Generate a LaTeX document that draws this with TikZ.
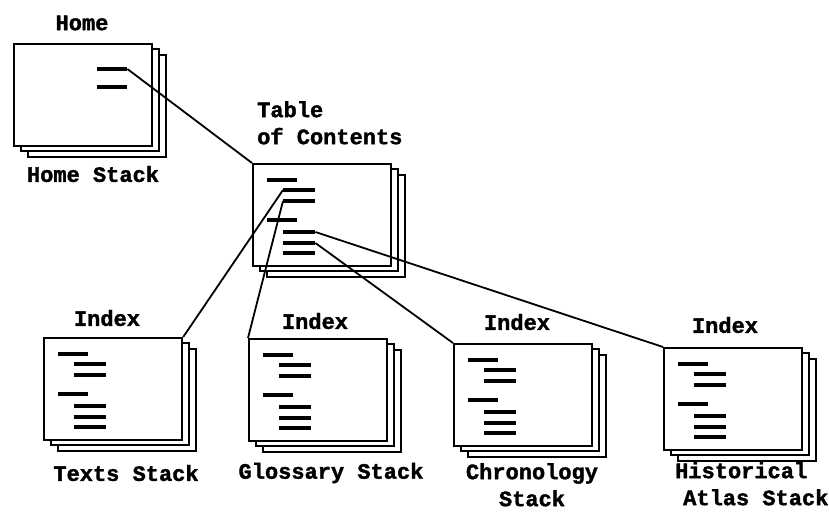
\documentclass[tikz,border=0pt]{standalone}
\usepackage{fontspec}
\newfontfamily\lblfont[BoldFont={Liberation Mono Bold},BoldFeatures={FakeBold=1.6}]{Liberation Mono}
\begin{document}
\begin{tikzpicture}[x=1pt,y=-1pt,
  card/.style={draw=black,line width=2.2pt,fill=white,minimum width=138pt,minimum height=102pt,inner sep=0pt,anchor=north west},
  bar/.style={fill=black,minimum width=#1,minimum height=4.5pt,inner sep=0pt,anchor=west},
  bar/.default=32pt,
  lbl/.style={font=\lblfont\bfseries\fontsize{22}{27}\selectfont,inner sep=0pt},
  link/.style={line width=1.8pt}]
\useasboundingbox (0,0) rectangle (829,511);

% a stack of three cards, front card named #1, top-left corner at (#2,#3)
\newcommand\cardstack[3]{%
  \node[card] at (#2+14,#3+11) {};
  \node[card] at (#2+7,#3+5) {};
  \node[card] (#1) at (#2,#3) {};}

% index layout: two headings with indented entries below each
\newcommand\indexbars[1]{%
  \node[bar=30pt] (#1b1) at ([shift={(15,17)}]#1.north west) {};
  \node[bar] (#1b2) at ([shift={(31,27)}]#1.north west) {};
  \node[bar] (#1b3) at ([shift={(31,38)}]#1.north west) {};
  \node[bar=30pt] (#1b4) at ([shift={(15,57)}]#1.north west) {};
  \node[bar] (#1b5) at ([shift={(31,69)}]#1.north west) {};
  \node[bar] (#1b6) at ([shift={(31,80)}]#1.north west) {};
  \node[bar] (#1b7) at ([shift={(31,90)}]#1.north west) {};}

% Home stack
\cardstack{home}{13}{43}
\node[bar=30pt] (homeb1) at ([shift={(84,26)}]home.north west) {};
\node[bar=30pt] (homeb2) at ([shift={(84,44)}]home.north west) {};
\node[lbl] (homet) at (82,23) {Home};
\node[lbl] (homes) at (93,174) {Home Stack};

% Table of Contents stack
\cardstack{toc}{252}{163}
\indexbars{toc}
\node[lbl,align=left,anchor=north west] (toct) at (257,101) {Table\\of Contents};

% Texts stack
\cardstack{texts}{43}{337}
\indexbars{texts}
\node[lbl] (textst) at (107,318) {Index};
\node[lbl] (textss) at (126,473) {Texts Stack};

% Glossary stack
\cardstack{gloss}{248}{338}
\indexbars{gloss}
\node[lbl] (glosst) at (315,321) {Index};
\node[lbl] (glosss) at (331,473) {Glossary Stack};

% Chronology stack
\cardstack{chron}{453}{343}
\indexbars{chron}
\node[lbl] (chront) at (517,322) {Index};
\node[lbl,align=center,anchor=north] (chrons) at (532,463) {Chronology\\Stack};

% Historical Atlas stack
\cardstack{atlas}{663}{347}
\indexbars{atlas}
\node[lbl] (atlast) at (725,325) {Index};
\node[lbl,align=left,anchor=north west] (atlass) at (675,462) {Historical\\\hspace{8pt}Atlas Stack};

% links between the stacks
\draw[link] (homeb1.east) -- (toc.north west);
\draw[link] (tocb2.west) -- (texts.north east);
\draw[link] (tocb3.west) -- (gloss.north west);
\draw[link] (tocb6.east) -- (chron.north west);
\draw[link] (tocb5.east) -- (atlas.north west);
\end{tikzpicture}
\end{document}
